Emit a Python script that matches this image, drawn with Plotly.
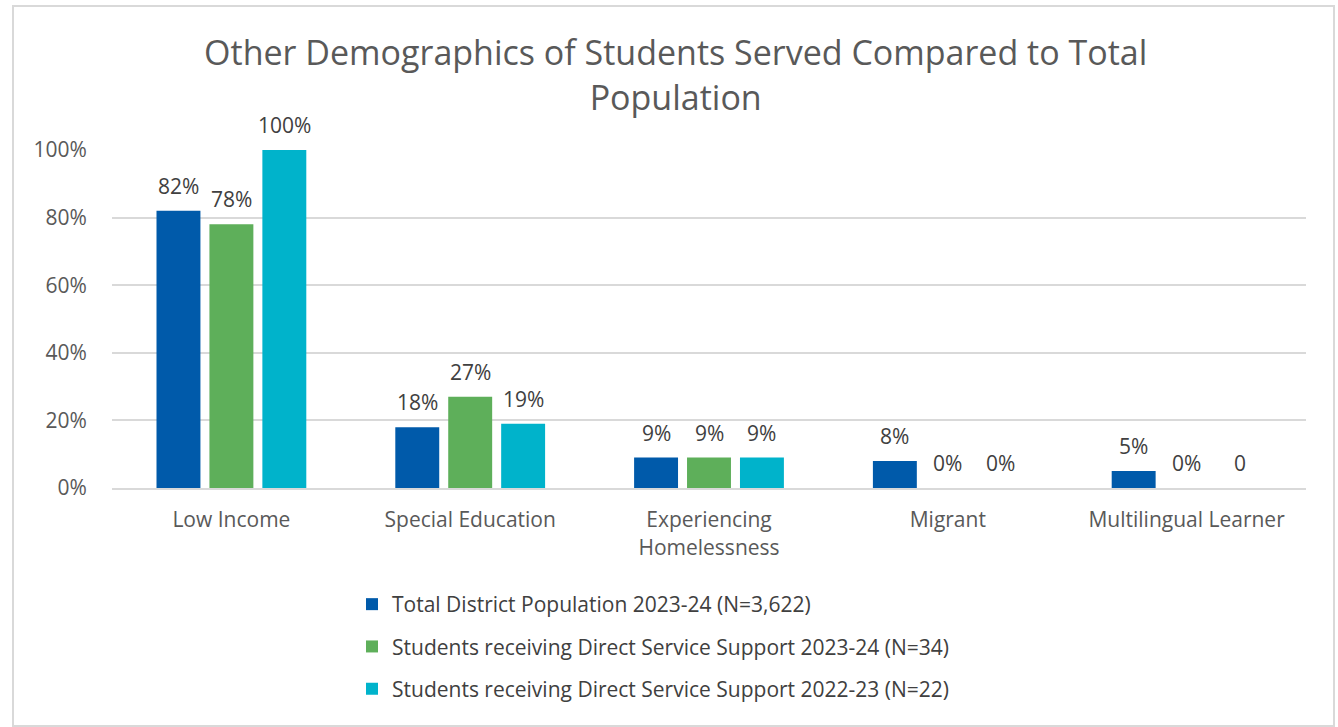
import plotly.graph_objects as go

categories = ["Low Income", "Special Education", "Experiencing<br>Homelessness", "Migrant", "Multilingual Learner"]
series_names = [
    "Total District Population 2023-24 (N=3,622)",
    "Students receiving Direct Service Support 2023-24 (N=34)",
    "Students receiving Direct Service Support 2022-23 (N=22)",
]
total_2324 = [82, 18, 9, 8, 5]
direct_2324 = [78, 27, 9, 0, 0]
direct_2223 = [100, 19, 9, 0, 0]
labels_total = ["82%", "18%", "9%", "8%", "5%"]
labels_direct_2324 = ["78%", "27%", "9%", "0%", "0%"]
labels_direct_2223 = ["100%", "19%", "9%", "0%", "0"]
colors = ["#005AAA", "#5EAF5A", "#00B3CB"]
y_ticks = [0, 20, 40, 60, 80, 100]
y_tick_labels = ["0%", "20%", "40%", "60%", "80%", "100%"]

FONT = "Open Sans"
FS = 21
L, R, T, B = 112, 32, 150, 239
W, H = 1338, 727
pw, ph = W - L - R, H - T - B
BARGAP, BARGROUPGAP = 0.335, 0.17

fig = go.Figure()
all_vals = [total_2324, direct_2324, direct_2223]
all_labs = [labels_total, labels_direct_2324, labels_direct_2223]
for name, vals, col in zip(series_names, all_vals, colors):
    fig.add_trace(go.Bar(
        x=categories, y=vals, name=name, marker_color=col, marker_line_width=0,
        legendgroup=name,
    ))

# value labels placed through the axis scales
slot = (1 - BARGAP) / len(series_names)
annotations = []
for k, (vals, labs) in enumerate(zip(all_vals, all_labs)):
    off = (k - (len(series_names) - 1) / 2) * slot
    for i, (v, lab) in enumerate(zip(vals, labs)):
        annotations.append(dict(
            x=i + off, y=v, xref="x", yref="y", text=lab, showarrow=False,
            yanchor="bottom", xanchor="center", yshift=9,
            font=dict(family=FONT, size=FS, color="#404040"),
        ))

def px_x(p):
    return (p - L) / pw

def px_y(p):
    return (H - p - B) / ph

fig.update_layout(
    width=W, height=H,
    margin=dict(l=L, r=R, t=T, b=B),
    paper_bgcolor="white", plot_bgcolor="white",
    font=dict(family=FONT, color="#595959"),
    barmode="group", bargap=BARGAP, bargroupgap=BARGROUPGAP,
    showlegend=True,
    annotations=annotations,
    title=dict(
        text="Other Demographics of Students Served Compared to Total<br>Population",
        x=0.505, xanchor="center", y=0.910, yanchor="top",
        font=dict(family=FONT, size=34, color="#595959"),
    ),
    legend=dict(
        orientation="v", x=px_x(352), xanchor="left", y=px_y(584), yanchor="top",
        font=dict(family=FONT, size=FS, color="#404040"),
        tracegroupgap=12, itemwidth=30, traceorder="grouped",
    ),
    xaxis=dict(
        showgrid=False, showline=True, linecolor="#d9d9d9", linewidth=2,
        tickfont=dict(family=FONT, size=FS, color="#595959"),
        ticks="outside", ticklen=12, tickcolor="rgba(0,0,0,0)",
    ),
    yaxis=dict(
        range=[0, 100], tickvals=y_ticks, ticktext=y_tick_labels,
        showgrid=True, gridcolor="#d9d9d9", gridwidth=1.5, zeroline=False,
        tickfont=dict(family=FONT, size=FS, color="#595959"),
        ticks="outside", ticklen=20, tickcolor="rgba(0,0,0,0)",
    ),
    shapes=[dict(
        type="rect", xref="paper", yref="paper",
        x0=px_x(13), x1=px_x(1334), y0=px_y(726), y1=px_y(6),
        line=dict(color="#d9d9d9", width=2), fillcolor="rgba(0,0,0,0)", layer="below",
    )],
)

fig.write_html("out.html")
